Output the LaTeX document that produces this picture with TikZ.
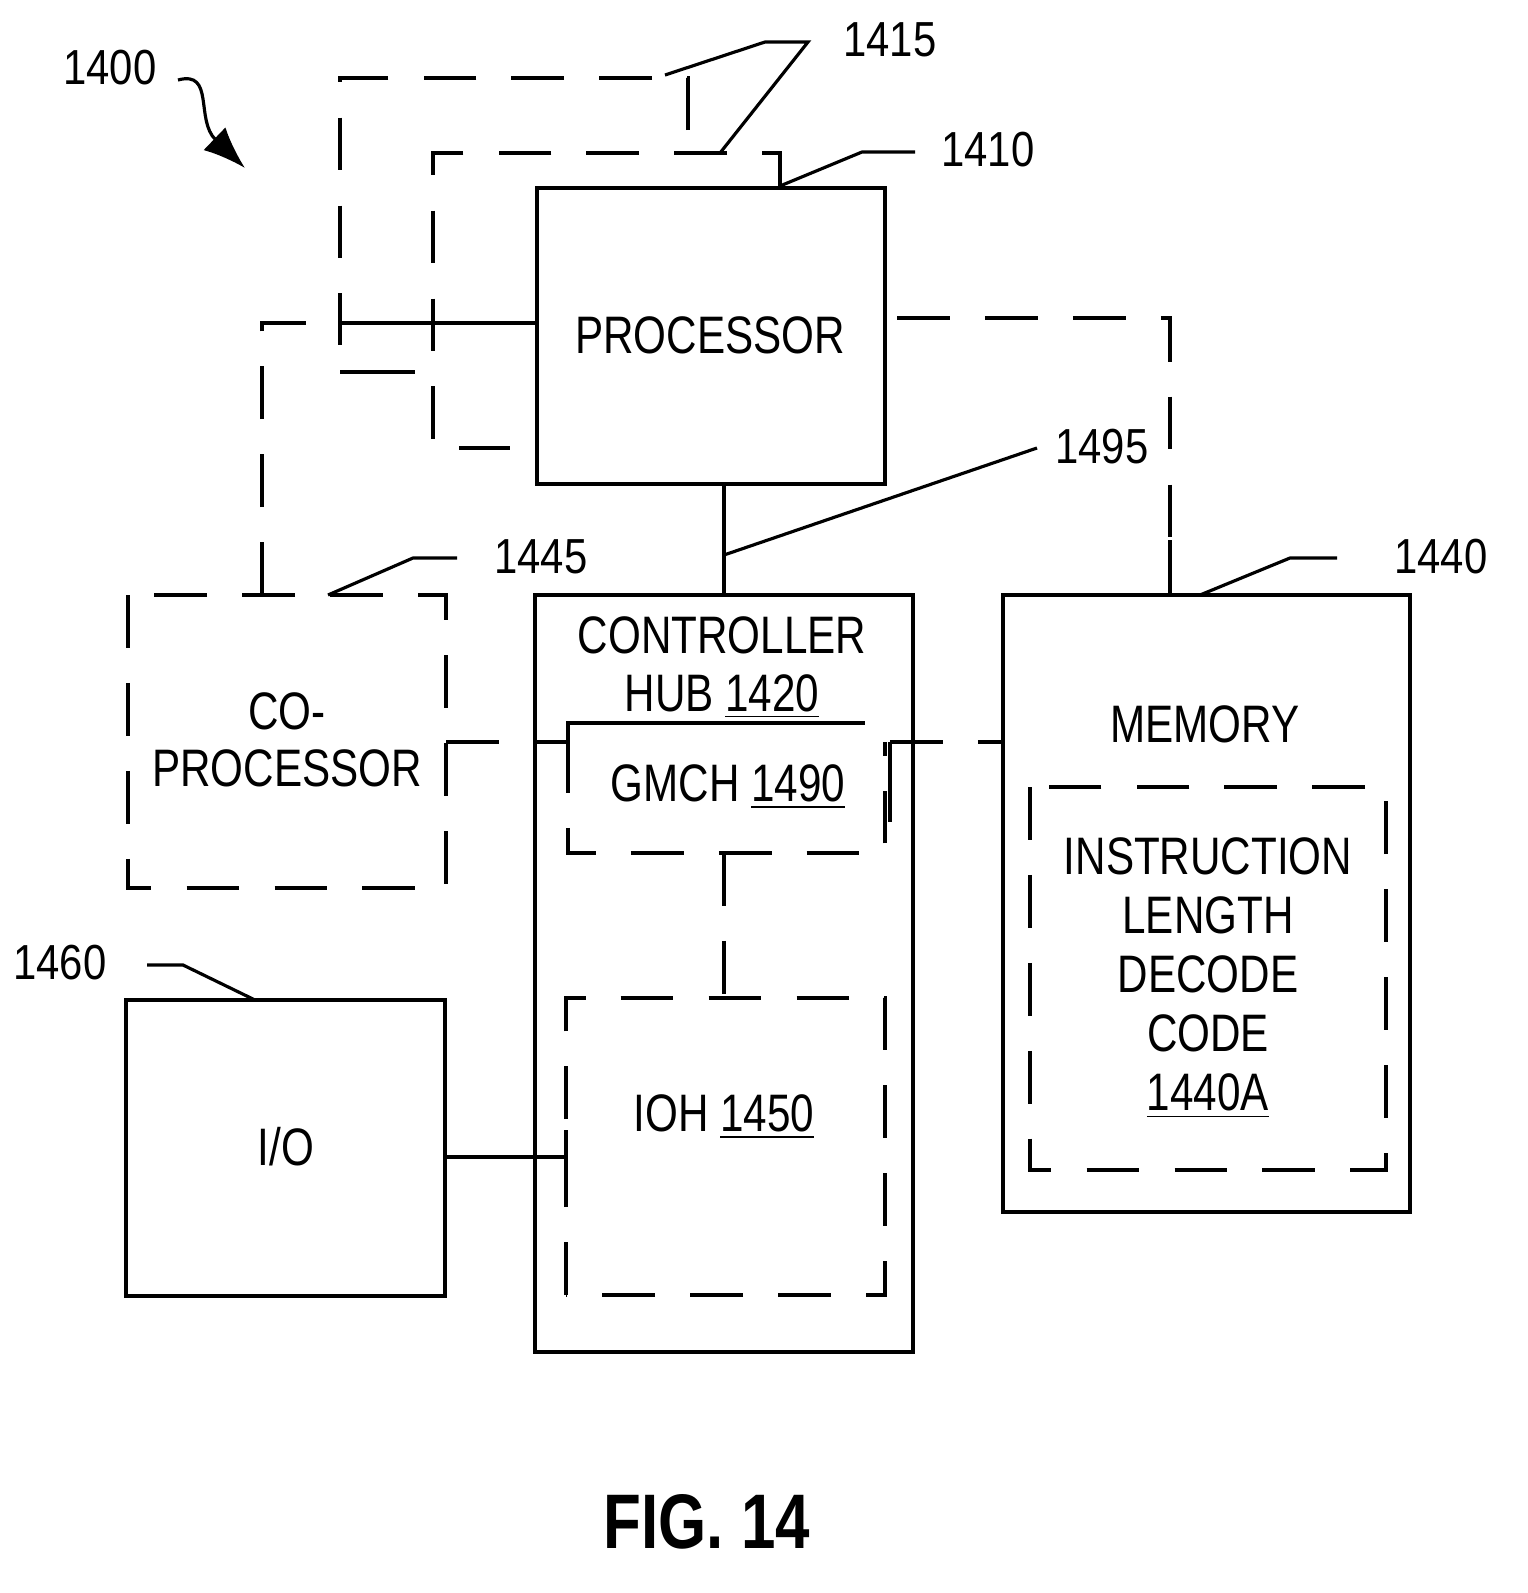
\documentclass[tikz,border=0pt]{standalone}
\usepackage{fontspec}
\setmainfont{Liberation Sans}
\usetikzlibrary{arrows.meta}
\begin{document}
\begin{tikzpicture}[x=0.01cm,y=-0.01cm,line width=0.9pt,
  dsh/.style={dash pattern=on 15pt off 10pt},
  txt/.style={font=\fontsize{15}{16.3}\selectfont,xscale=0.8,align=center},
  lbl/.style={font=\fontsize{14}{17}\selectfont,xscale=0.85}]
\useasboundingbox (0,0) rectangle (1528,1593);
% boxes
\draw (537,188) rectangle (885,484);
\node[txt] (proc) at (710,335) {PROCESSOR};
\draw[dsh] (128,595) rectangle (446,888);
\node[txt] (cop) at (287,740) {CO-\\PROCESSOR};
\draw (535,595) rectangle (913,1352);
\node[txt] (hub) at (722,668) {CONTROLLER\\HUB \underline{1420}};
\draw[dsh] (568,740) -- (568,853) -- (885,853) -- (885,742);
\draw (568,742) -- (568,723) -- (865,723);
\node[txt] (gmch) at (728,787) {GMCH \underline{1490}};
\draw[dsh] (566,1295) -- (566,998) -- (885,998) -- (885,1295) -- cycle;
\node[txt] (ioh) at (724,1117) {IOH \underline{1450}};
\draw (126,1000) rectangle (445,1296);
\node[txt] (io) at (286,1147) {I/O};
\draw (1003,595) rectangle (1410,1212);
\node[txt] (mem) at (1205,724) {MEMORY};
\draw[dsh] (1030,787) rectangle (1386,1170);
\node[txt,font=\fontsize{15}{16.8}\selectfont] (ildc) at (1208,978) {INSTRUCTION\\LENGTH\\DECODE\\CODE\\\underline{1440A}};
% processor dashed frames
\draw[dsh] (688,130) -- (688,78) -- (340,78) -- (340,345);
\draw (340,323) -- (537,323);
\draw (340,372) -- (415,372);
\draw[dsh] (780,188) -- (780,153) -- (433,153) -- (433,448) -- (510,448);
% links
\draw[dsh] (262,595) -- (262,323) -- (340,323);
\draw[dsh] (897,318) -- (1170,318) -- (1170,560);
\draw (1170,540) -- (1170,595);
\draw (724,484) -- (724,595);
\draw[dsh] (446,742) -- (568,742);
\draw[dsh] (890,742) -- (1005,742);
\draw (890,742) -- (890,822);
\draw[dsh] (724,853) -- (724,998);
\draw (445,1157) -- (566,1157);
\draw (566,1130) -- (566,1185);
% labels
\node[lbl] (l1400) at (110,68) {1400};
\draw[-{Latex[length=12pt,width=9pt]}] (178,80) .. controls (215,70) and (195,120) .. (245,168);
\node[lbl] (l1415) at (890,40) {1415};
\draw (720,153) -- (808,42) -- (765,42) -- (665,75);
\node[lbl] (l1410) at (988,150) {1410};
\draw (780,186) -- (862,152) -- (915,152);
\node[lbl] (l1495) at (1102,447) {1495};
\draw (724,555) -- (1037,448);
\node[lbl] (l1445) at (541,557) {1445};
\draw (328,595) -- (413,558) -- (457,558);
\node[lbl] (l1440) at (1441,557) {1440};
\draw (1200,595) -- (1290,558) -- (1337,558);
\node[lbl] (l1460) at (60,963) {1460};
\draw (147,965) -- (183,965) -- (255,1000);
\node[font=\fontsize{22}{26}\selectfont\bfseries,xscale=0.8] (fig) at (707,1522) {FIG. 14};
\end{tikzpicture}
\end{document}
